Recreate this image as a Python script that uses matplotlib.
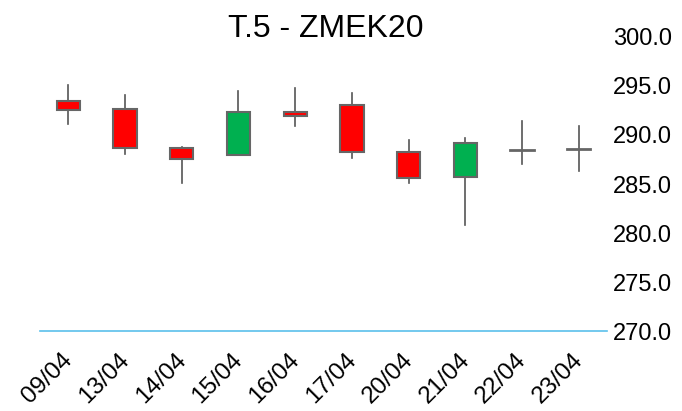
import numpy as np
import matplotlib.pyplot as plt
import matplotlib.transforms as mtransforms
from matplotlib.patches import Rectangle

plt.rcParams['font.family'] = ['Liberation Sans', 'DejaVu Sans']

# OHLC values
dates = ['09/04', '13/04', '14/04', '15/04', '16/04', '17/04', '20/04', '21/04', '22/04', '23/04']
opens = [293.5, 292.7, 288.7, 288.0, 292.3, 293.1, 288.3, 285.7, 288.5, 288.6]
highs = [295.1, 294.1, 288.8, 294.5, 294.8, 294.3, 289.5, 289.7, 291.4, 290.9]
lows = [291.1, 288.1, 285.1, 288.0, 290.9, 287.7, 285.1, 280.8, 287.0, 286.3]
closes = [292.6, 288.7, 287.6, 292.3, 291.9, 288.3, 285.6, 289.2, 288.5, 288.6]
yticks = [270.0, 275.0, 280.0, 285.0, 290.0, 295.0, 300.0]

fig = plt.figure(figsize=(6.82, 4.11), dpi=100)
ax = fig.add_axes([0.0587, 0.1946, 0.8314, 0.7154])

width = 0.41
edge = '#666666'
for i in range(len(dates)):
    o, h, l, c = opens[i], highs[i], lows[i], closes[i]
    ax.plot([i, i], [l, h], color='#555555', lw=1.2, zorder=1)
    if abs(c - o) < 1e-9:
        ax.plot([i - width / 2, i + width / 2], [o, o], color=edge, lw=2, zorder=2)
        continue
    color = '#00b050' if c > o else '#ff0000'
    ax.add_patch(Rectangle((i - width / 2, min(o, c)), width, abs(c - o),
                           facecolor=color, edgecolor=edge, lw=1.5, zorder=2))

ax.set_xlim(-0.5, len(dates) - 0.5)
ax.set_ylim(270, 300)
ax.set_xticks(range(len(dates)))
ax.set_xticklabels(dates, rotation=45, ha='right', va='top', rotation_mode='anchor', fontsize=17.5)
ax.set_yticks(yticks)
ax.set_yticklabels([f'{v:.1f}' for v in yticks], fontsize=17)
ax.yaxis.tick_right()
ax.tick_params(axis='both', length=0)
ax.tick_params(axis='y', pad=4)
ax.tick_params(axis='x', pad=13)
shift = mtransforms.ScaledTranslation(-0.07, 0, fig.dpi_scale_trans)
for lab in ax.get_xticklabels():
    lab.set_transform(lab.get_transform() + shift)
for s in ['top', 'left', 'right']:
    ax.spines[s].set_visible(False)
ax.spines['bottom'].set_color('#5bc0eb')
ax.spines['bottom'].set_linewidth(1.2)

fig.text(0.477, 0.93, 'T.5 - ZMEK20', ha='center', va='center', fontsize=23)

fig.savefig('out.png', dpi=100)
